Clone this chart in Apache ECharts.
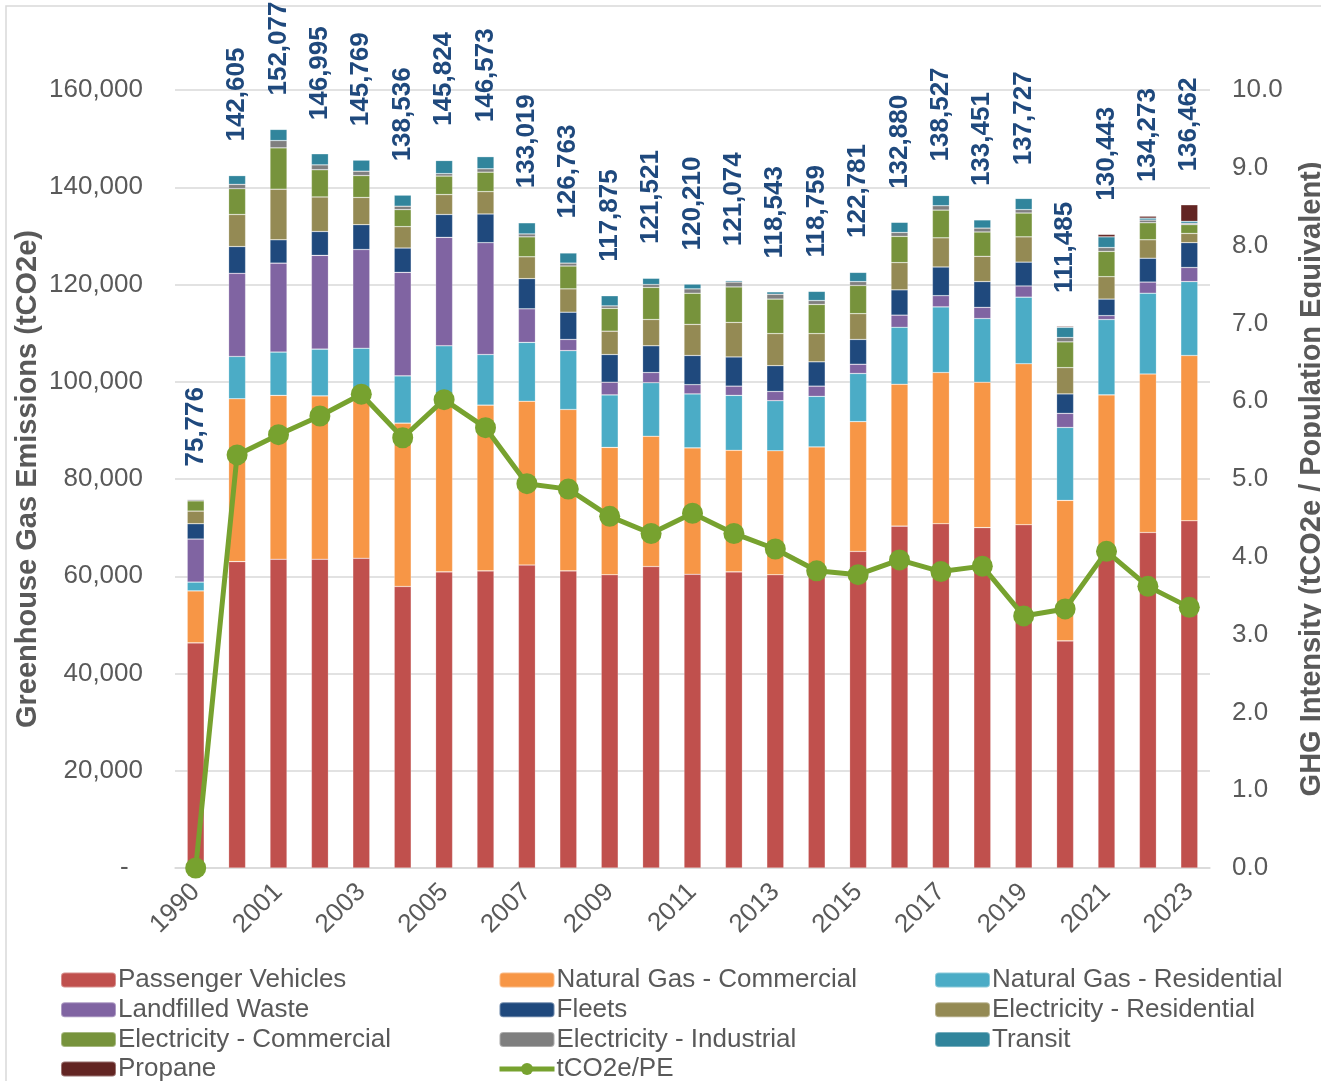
<!DOCTYPE html>
<html>
<head>
<meta charset="utf-8">
<script src="https://cdn.jsdelivr.net/npm/echarts@6/dist/echarts.min.js"></script>
<style>
  html, body { margin: 0; padding: 0; background: #fff; }
  #main { width: 1321px; height: 1081px; }
</style>
</head>
<body>
<div id="main"></div>
<script>
var years = ['1990','2000','2001','2002','2003','2004','2005','2006','2007','2008','2009','2010','2011','2012','2013','2014','2015','2016','2017','2018','2019','2020','2021','2022','2023'];

// tCO2e by sector
var passengerVehicles = [46300,63000,63500,63500,63700,57900,60900,61100,62300,61100,60300,62000,60400,60900,60300,60500,65100,70300,70800,70000,70600,46700,65000,69000,71400];
var ngCommercial      = [10700,33500,33700,33600,34900,33600,36400,34100,33700,33200,26200,26800,26000,25000,25500,26100,26700,29200,31100,29900,33100,28900,32300,32600,34000];
var ngResidential     = [1800,8700,8900,9600,8300,9700,10100,10400,12100,12100,10800,11000,11100,11300,10300,10400,9900,11700,13500,13100,13700,15000,15500,16600,15200];
var landfilledWaste   = [8850,17100,18300,19300,20300,21300,22300,23000,6900,2300,2600,2100,1900,1900,1900,2100,1900,2500,2300,2300,2300,2900,800,2300,2900];
var fleets            = [3150,5500,4800,4900,5100,5000,4700,5900,6200,5600,5700,5500,6000,6000,5300,5000,5100,5200,5900,5300,4900,4000,3400,4900,5100];
var elecResidential   = [2600,6600,10400,7100,5600,4400,4100,4600,4500,4800,4800,5400,6400,7100,6600,5800,5300,5600,6000,5200,5200,5400,4600,3800,1900];
var elecCommercial    = [2100,5300,8500,5600,4500,3500,3800,4000,4100,4700,4700,6600,6400,7300,7100,6000,5800,5400,5700,5000,4900,5300,5200,3500,1800];
var elecIndustrial    = [300,900,1500,1000,900,700,500,700,600,600,500,600,900,1000,1000,800,800,800,900,800,700,900,800,550,300];
var transit           = [0,1800,2300,2300,2300,2300,2700,2500,2300,2100,2100,1300,1000,300,500,1900,1900,2100,2100,1700,2300,2100,2200,400,400];
var propane           = [0,0,0,0,0,0,0,0,0,0,0,0,0,0,0,0,0,0,0,0,0,200,500,400,3400];

var totals = [75776,142605,152077,146995,145769,138536,145824,146573,133019,126763,117875,121521,120210,121074,118543,118759,122781,132880,138527,133451,137727,111485,130443,134273,136462];

// tCO2e per population equivalent
var intensity = [0.00,5.31,5.57,5.81,6.09,5.53,6.02,5.66,4.94,4.87,4.52,4.30,4.56,4.30,4.10,3.82,3.77,3.96,3.81,3.88,3.24,3.33,4.07,3.62,3.35];

var sectors = [
  ['Passenger Vehicles', passengerVehicles, '#C0504D'],
  ['Natural Gas - Commercial', ngCommercial, '#F79646'],
  ['Natural Gas - Residential', ngResidential, '#4BACC6'],
  ['Landfilled Waste', landfilledWaste, '#8064A2'],
  ['Fleets', fleets, '#1F497D'],
  ['Electricity - Residential', elecResidential, '#948A54'],
  ['Electricity - Commercial', elecCommercial, '#77933C'],
  ['Electricity - Industrial', elecIndustrial, '#7F7F7F'],
  ['Transit', transit, '#31859C'],
  ['Propane', propane, '#632523']
];

var txt = '#595959';
var green = '#77A22F';
var font = 'Liberation Sans, Arial, sans-serif';

var series = sectors.map(function (s) {
  return {
    name: s[0],
    type: 'bar',
    stack: 'total',
    barWidth: 17,
    data: s[1],
    itemStyle: { color: s[2], borderColor: 'rgba(255,255,255,0.35)', borderWidth: 0.6 }
  };
});

series.push({
  name: 'tCO2e/PE',
  type: 'line',
  yAxisIndex: 1,
  data: intensity,
  symbol: 'circle',
  symbolSize: 21,
  lineStyle: { color: green, width: 5 },
  itemStyle: { color: green },
  z: 5
});

series.push({
  name: 'totals',
  type: 'scatter',
  data: totals,
  symbolSize: 0,
  silent: true,
  z: 6,
  itemStyle: { opacity: 1 },
  label: {
    show: true,
    position: 'top',
    distance: 33,
    rotate: 90,
    align: 'left',
    verticalAlign: 'middle',
    fontSize: 26,
    fontWeight: 'bold',
    fontFamily: font,
    color: '#1F497D',
    formatter: function (p) { return p.value.toLocaleString('en-US'); }
  }
});

function legendCol(left, names) {
  return {
    orient: 'vertical',
    left: left,
    top: 967,
    height: 160,
    padding: 0,
    itemWidth: 55,
    itemHeight: 15,
    itemGap: 3.7,
    data: names,
    textStyle: { fontSize: 26, color: txt, fontFamily: font, padding: [0, 0, 0, -3] }
  };
}

var chart = echarts.init(document.getElementById('main'));
var option = {
  animation: false,
  textStyle: { fontFamily: font },
  graphic: [{
    type: 'rect',
    shape: { x: 6, y: 6, width: 1340, height: 1100 },
    style: { fill: null, stroke: '#D9D9D9', lineWidth: 1.5 },
    silent: true
  }],
  legend: [
    legendCol(60, ['Passenger Vehicles', 'Landfilled Waste', 'Electricity - Commercial', 'Propane']),
    legendCol(497, ['Natural Gas - Commercial', 'Fleets', 'Electricity - Industrial',
      { name: 'tCO2e/PE', lineStyle: { width: 5, color: green }, itemStyle: { color: green } }]),
    legendCol(934, ['Natural Gas - Residential', 'Electricity - Residential', 'Transit'])
  ],
  grid: { left: 175, right: 111, top: 90, bottom: 213, outerBoundsMode: 'none', containLabel: false },
  xAxis: {
    type: 'category',
    data: years,
    axisTick: { show: false },
    axisLine: { lineStyle: { color: '#D9D9D9', width: 1.5 } },
    axisLabel: { interval: 1, rotate: 45, margin: 20, fontSize: 26, color: txt }
  },
  yAxis: [{
    type: 'value',
    min: 0, max: 160000, interval: 20000,
    name: 'Greenhouse Gas Emissions (tCO2e)',
    nameLocation: 'middle',
    nameRotate: 90,
    nameGap: 133,
    nameMoveOverlap: false,
    nameTextStyle: { fontSize: 29, fontWeight: 'bold', color: txt },
    axisLine: { show: false },
    axisTick: { show: false },
    splitLine: { lineStyle: { color: '#D9D9D9', width: 1.5 } },
    axisLabel: {
      margin: 32, fontSize: 26, color: txt,
      formatter: function (v) { return v === 0 ? '-  ' : v.toLocaleString('en-US'); }
    }
  }, {
    type: 'value',
    min: 0, max: 10, interval: 1,
    name: 'GHG Intensity (tCO2e / Population Equivalent)',
    nameLocation: 'middle',
    nameRotate: 90,
    nameGap: 87,
    nameTextStyle: { fontSize: 29, fontWeight: 'bold', color: txt },
    axisLine: { show: false },
    axisTick: { show: false },
    splitLine: { show: false },
    axisLabel: {
      margin: 22, fontSize: 26, color: txt,
      formatter: function (v) { return v.toFixed(1); }
    }
  }],
  series: series
};
chart.setOption(option);
window.onresize = chart.resize;
</script>
</body>
</html>
